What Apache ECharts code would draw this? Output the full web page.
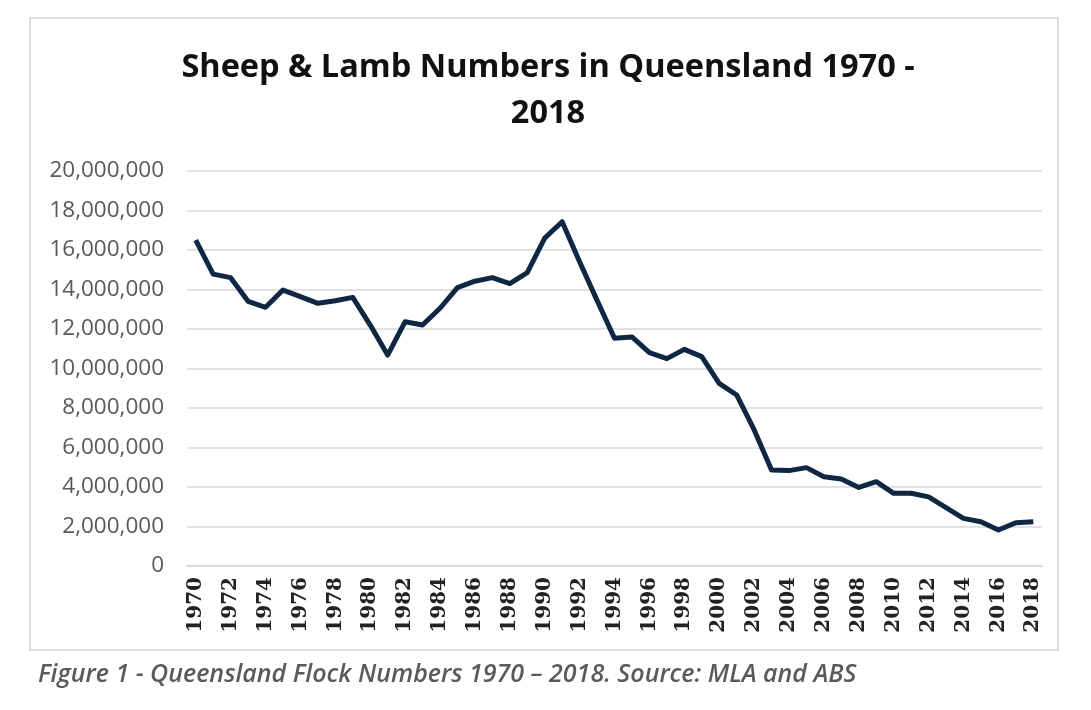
<!DOCTYPE html>
<html>
<head>
<meta charset="utf-8">
<script src="https://cdn.jsdelivr.net/npm/echarts@6/dist/echarts.min.js"></script>
<style>
html,body{margin:0;padding:0;background:#fff;}
#chart{width:1091px;height:710px;}
</style>
</head>
<body>
<div id="chart"></div>
<script>
const years = ["1970","1971","1972","1973","1974","1975","1976","1977","1978","1979",
  "1980","1981","1982","1983","1984","1985","1986","1987","1988","1989",
  "1990","1991","1992","1993","1994","1995","1996","1997","1998","1999",
  "2000","2001","2002","2003","2004","2005","2006","2007","2008","2009",
  "2010","2011","2012","2013","2014","2015","2016","2017","2018"];
const sheepNumbers = [16500000,14780000,14600000,13400000,13100000,13970000,13640000,13300000,13430000,13600000,
  12200000,10680000,12370000,12200000,13050000,14100000,14420000,14600000,14300000,14850000,
  16600000,17430000,15400000,13450000,11530000,11600000,10800000,10500000,10970000,10600000,
  9250000,8660000,6900000,4860000,4830000,4980000,4520000,4400000,3980000,4270000,
  3680000,3680000,3500000,2960000,2410000,2240000,1820000,2190000,2240000];
const yTicks = {min:0, max:20000000, interval:2000000};
const titleText = "Sheep & Lamb Numbers in Queensland 1970 -\n2018";
const captionText = "Figure 1 - Queensland Flock Numbers 1970 \u2013 2018. Source: MLA and ABS";

function withCommas(v){ return String(Math.round(v)).replace(/\B(?=(\d{3})+(?!\d))/g, ","); }

const chart = echarts.init(document.getElementById('chart'));
chart.setOption({
  backgroundColor:'#ffffff',
  animation:false,
  title:{
    text:titleText,
    left:543, top:40, textAlign:'center',
    textStyle:{fontFamily:'Open Sans', fontWeight:'bold', fontSize:32.5, color:'#111', lineHeight:46}
  },
  graphic:[
    {type:'rect', shape:{x:30, y:18, width:1028, height:632},
     style:{fill:'none', stroke:'#d4d4d4', lineWidth:1.5}, z:-1},
    {type:'text', left:38, top:662,
     style:{text:captionText, fill:'#5a5a5a', font:'italic 600 25px "Open Sans"'}}
  ],
  grid:{left:187, right:49, top:171, bottom:144},
  xAxis:{
    type:'category', data:years, boundaryGap:true,
    axisLine:{show:true, lineStyle:{color:'#d9d9d9', width:2}},
    axisTick:{show:false},
    axisLabel:{interval:1, rotate:90, margin:11, color:'#222',
      fontFamily:'DejaVu Serif', fontWeight:'bold', fontSize:20}
  },
  yAxis:{
    type:'value', min:yTicks.min, max:yTicks.max, interval:yTicks.interval,
    axisLine:{show:false}, axisTick:{show:false},
    splitLine:{lineStyle:{color:'#d9d9d9', width:1.5}},
    axisLabel:{margin:23, color:'#595959', fontFamily:'Open Sans', fontSize:22.5, formatter:withCommas}
  },
  series:[{
    type:'line', data:sheepNumbers, symbol:'none',
    lineStyle:{color:'#0f2742', width:5, join:'round'}
  }]
});
</script>
</body>
</html>
